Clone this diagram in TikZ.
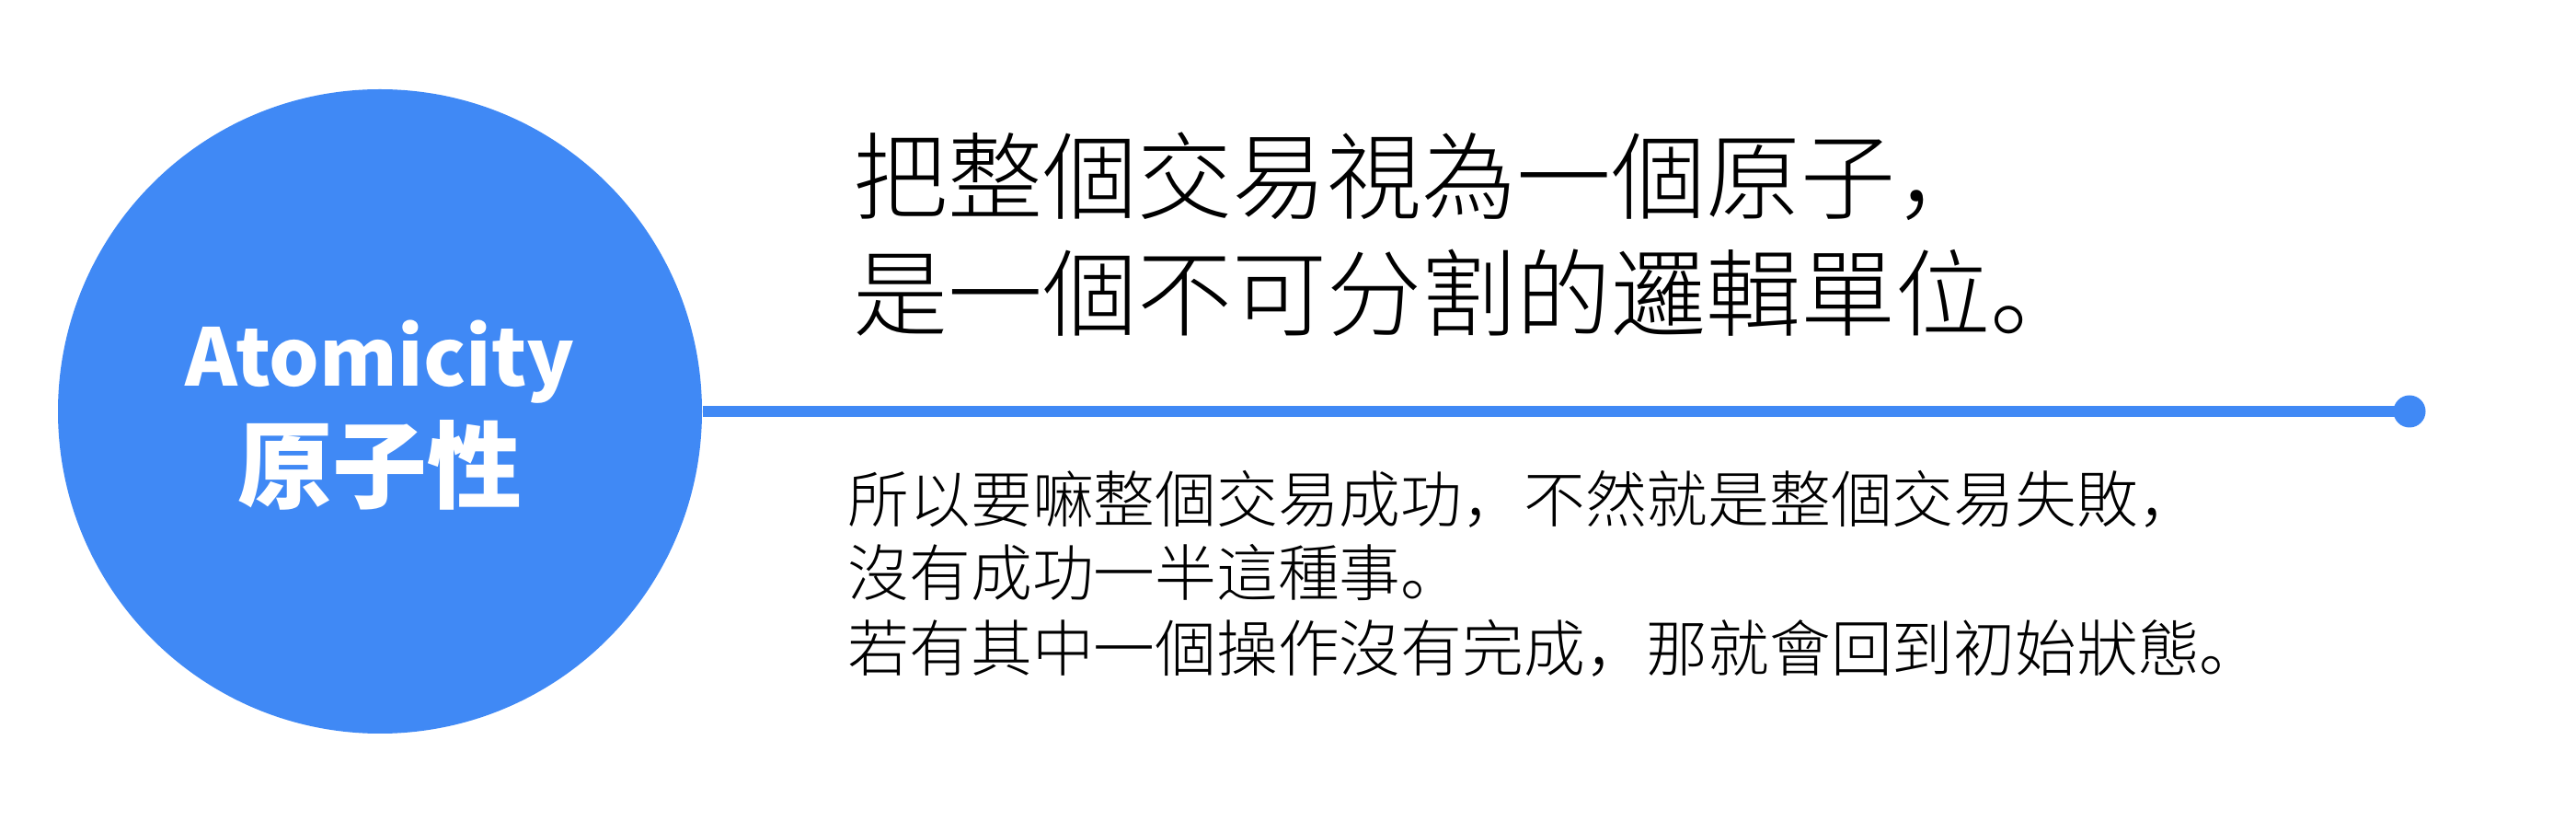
\documentclass[tikz,border=0pt]{standalone}
\usepackage{fontspec}
\newfontfamily\cjk{Noto Sans CJK SC}
\newfontfamily\cjkthin{Noto Sans CJK SC}[UprightFont=* Light]
\definecolor{atomblue}{RGB}{64,137,245}

\begin{document}
\begin{tikzpicture}[x=1cm,y=1cm,
    title/.style={anchor=base west,inner sep=0pt,font=\cjkthin\fontsize{29.3}{37}\selectfont},
    body/.style={anchor=base west,inner sep=0pt,font=\cjkthin\fontsize{19}{23}\selectfont},
    badge/.style={anchor=base,inner sep=0pt,text=white,font=\cjk\bfseries\fontsize{29.3}{37}\selectfont}]
  \useasboundingbox (0,0) rectangle (28,8.92);
  % circle with the name
  \node (ring) at (4.13,4.45) [circle,fill=atomblue,minimum size=7cm,inner sep=0pt] {};
  \node (en) at (4.13,4.72) [badge,font=\cjk\bfseries\fontsize{24.5}{30}\selectfont] {Atomicity};
  \node (zh) at (4.13,3.47) [badge] {原子性};
  % line out to the dot
  \coordinate (tip) at (26.19,4.45);
  \draw[atomblue,line width=3.4pt] (ring.east) -- (tip);
  \fill[atomblue] (tip) circle (0.175);
  % heading
  \node (h1) at (9.27,6.61) [title] {把整個交易視為一個原子，};
  \node (h2) at (9.27,5.34) [title] {是一個不可分割的邏輯單位。};
  % explanation
  \foreach \y/\s [count=\i] in {3.24/所以要嘛整個交易成功，不然就是整個交易失敗，,
                               2.44/沒有成功一半這種事。,
                               1.62/若有其中一個操作沒有完成，那就會回到初始狀態。}
  {
    \node (b\i) at (9.21,\y) [body] {\s};
  }
\end{tikzpicture}
\end{document}
